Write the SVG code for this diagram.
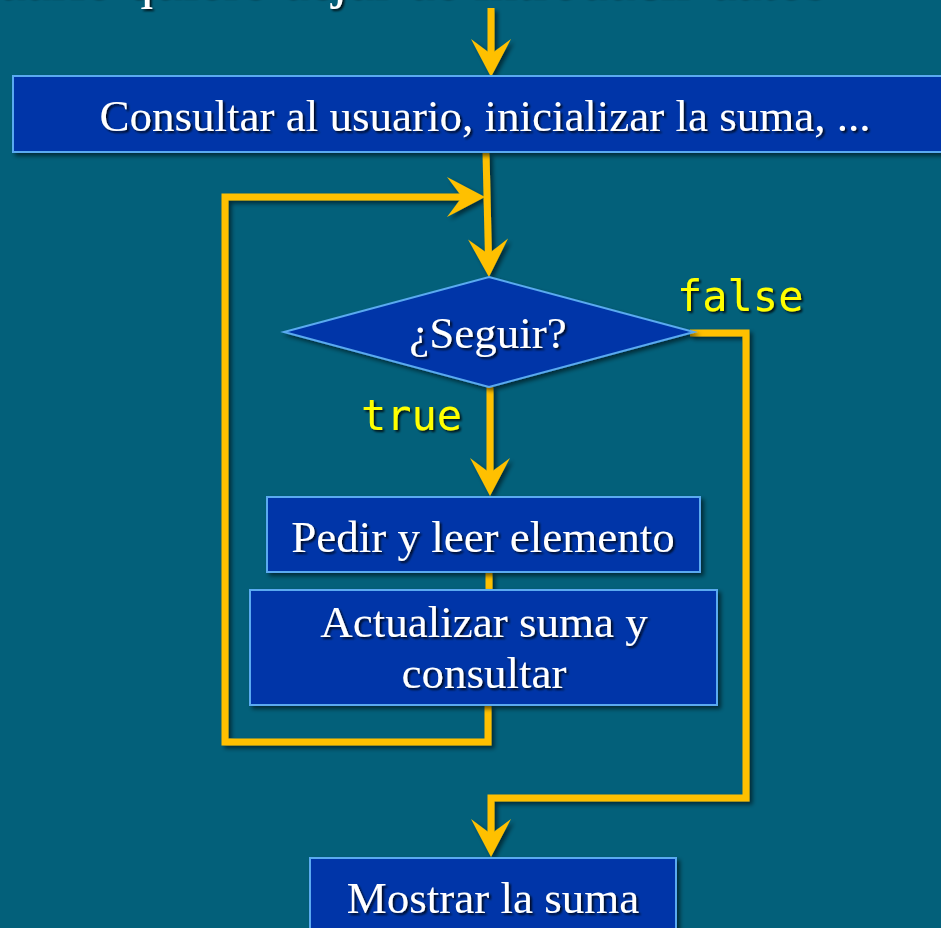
<svg xmlns="http://www.w3.org/2000/svg" width="941" height="928" viewBox="0 0 941 928">
  <defs>
    <style>
      .box { fill: #0036A8; stroke: #5AAAF0; stroke-width: 2; }
      .lbl { font-family: "Liberation Serif", "DejaVu Serif", serif; font-size: 45px; fill: #FFFFFF; text-anchor: middle; }
      .code { font-family: "DejaVu Sans Mono", "Liberation Mono", monospace; font-size: 42px; fill: #FFFF00; }
      .wire { fill: none; stroke: #FFC000; stroke-width: 7; stroke-linejoin: miter; stroke-linecap: butt; }
    </style>
    <filter id="shadow" x="-10%" y="-10%" width="130%" height="130%">
      <feDropShadow dx="3" dy="3" stdDeviation="2" flood-color="#000000" flood-opacity="0.55"/>
    </filter>
    <filter id="tshadow" x="-5%" y="-20%" width="115%" height="150%">
      <feDropShadow dx="2" dy="2" stdDeviation="1" flood-color="#000000" flood-opacity="0.8"/>
    </filter>
    <!-- notched arrowhead; reference point at the notch so the stroke stays hidden -->
    <marker id="head" markerUnits="userSpaceOnUse" viewBox="-40 -22 42 44" refX="-23" refY="0" markerWidth="42" markerHeight="44" orient="auto">
      <path d="M0,0 L-38,-20 L-23,0 L-38,20 Z" fill="#FFC000"/>
    </marker>
  </defs>

  <rect width="941" height="928" fill="#03607A"/>

  <!-- heading line running off the top edge -->
  <g id="heading" filter="url(#tshadow)">
    <text x="825" y="-3" font-family="'Liberation Serif', 'DejaVu Serif', serif" font-size="56" fill="#FFFFFF" text-anchor="end">usuario quiere dejar de introducir datos</text>
  </g>

  <!-- connectors -->
  <g id="connectors" filter="url(#shadow)">
    <path class="wire" d="M491,8 V54" marker-end="url(#head)"/>
    <path class="wire" d="M486,153 L488.4,254" marker-end="url(#head)"/>
    <path class="wire" d="M490,387 V473" marker-end="url(#head)"/>
    <path class="wire" d="M489,572 V590"/>
    <path class="wire" d="M488,705 V742 H225 V197 H462" marker-end="url(#head)"/>
    <path class="wire" d="M690,333 H746 V798 H491 V834" marker-end="url(#head)"/>
  </g>

  <g id="start" filter="url(#shadow)">
    <rect class="box" x="13" y="76" width="940" height="76"/>
    <text class="lbl" x="485" y="131" filter="url(#tshadow)">Consultar al usuario, inicializar la suma, ...</text>
  </g>

  <g id="decision">
    <polygon class="box" points="489,277 694,332 489,387 284,332" filter="url(#shadow)"/>
    <text class="lbl" x="488" y="348" filter="url(#tshadow)">¿Seguir?</text>
    <text class="code" x="677" y="311" filter="url(#tshadow)">false</text>
    <text class="code" x="361" y="430" filter="url(#tshadow)">true</text>
  </g>

  <g id="read" filter="url(#shadow)">
    <rect class="box" x="267" y="497" width="433" height="75"/>
    <text class="lbl" x="483" y="552" filter="url(#tshadow)">Pedir y leer elemento</text>
  </g>

  <g id="update" filter="url(#shadow)">
    <rect class="box" x="250" y="590" width="467" height="115"/>
    <text class="lbl" x="484" y="637" filter="url(#tshadow)">Actualizar suma y</text>
    <text class="lbl" x="484" y="688" filter="url(#tshadow)">consultar</text>
  </g>

  <g id="show" filter="url(#shadow)">
    <rect class="box" x="310" y="858" width="366" height="90"/>
    <text class="lbl" x="493" y="913" filter="url(#tshadow)">Mostrar la suma</text>
  </g>
</svg>
